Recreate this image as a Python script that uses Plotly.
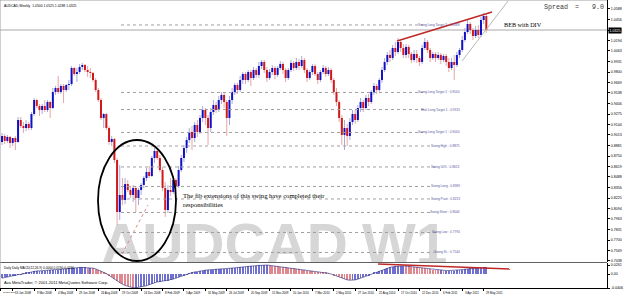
import plotly.graph_objects as go

# ---------------- data (weekly AUDCAD bars) ----------------
bar_index = list(range(182))

open_ = [0.8925,0.9000,0.8938,0.8988,0.8913,0.8975,0.8925,0.9200,0.9125,0.9100,
0.9150,0.9100,0.9275,0.9450,0.9375,0.9325,0.9375,0.9325,0.9425,0.9350,
0.9550,0.9600,0.9550,0.9625,0.9575,0.9638,0.9650,0.9850,0.9775,0.9800,
0.9863,0.9888,0.9825,0.9800,0.9788,0.9700,0.9575,0.9450,0.9225,0.9275,
0.9100,0.8925,0.8963,0.8700,0.8050,0.8263,0.8200,0.8400,0.8325,0.8263,
0.8350,0.8225,0.8325,0.8388,0.8475,0.8550,0.8500,0.8725,0.8813,0.8725,
0.8575,0.8350,0.8075,0.8325,0.8300,0.8450,0.8375,0.8575,0.8725,0.8850,
0.8950,0.9050,0.8975,0.9138,0.9050,0.9225,0.9325,0.9225,0.9100,0.9300,
0.9388,0.9325,0.9450,0.9513,0.9425,0.9225,0.9450,0.9550,0.9638,0.9575,
0.9700,0.9775,0.9700,0.9800,0.9725,0.9825,0.9763,0.9875,0.9925,0.9825,
0.9725,0.9800,0.9850,0.9763,0.9850,0.9900,0.9825,0.9725,0.9825,0.9913,
0.9850,0.9925,0.9875,0.9950,0.9825,0.9725,0.9800,0.9875,0.9775,0.9700,
0.9800,0.9850,0.9775,0.9825,0.9700,0.9550,0.9425,0.9225,0.9013,0.9100,
0.9000,0.9175,0.9275,0.9200,0.9350,0.9425,0.9350,0.9475,0.9425,0.9550,
0.9625,0.9575,0.9700,0.9825,0.9925,1.0013,0.9975,1.0100,1.0050,1.0175,
1.0100,1.0013,1.0113,1.0025,0.9950,1.0025,0.9975,0.9925,1.0100,1.0175,
1.0075,0.9975,1.0025,0.9975,1.0013,0.9950,1.0000,0.9925,0.9850,0.9925,
0.9888,1.0013,1.0075,1.0200,1.0300,1.0400,1.0325,1.0250,1.0325,1.0263,
1.0450,1.0500]

high_ = [0.9038,0.9025,0.9013,0.9000,0.8975,0.9000,0.9238,0.9238,0.9175,0.9200,
0.9175,0.9300,0.9475,0.9463,0.9400,0.9400,0.9450,0.9450,0.9438,0.9600,
0.9625,0.9750,0.9650,0.9650,0.9650,0.9700,0.9875,0.9863,0.9850,0.9900,
0.9913,0.9900,0.9875,0.9850,0.9800,0.9725,0.9600,0.9475,0.9288,0.9288,
0.9125,0.9000,0.8975,0.8725,0.8638,0.8475,0.8475,0.8450,0.8375,0.8388,
0.8375,0.8350,0.8413,0.8500,0.8600,0.8625,0.8750,0.8850,0.8838,0.8763,
0.8613,0.8425,0.8388,0.8475,0.8488,0.8475,0.8625,0.8763,0.8888,0.8988,
0.9100,0.9125,0.9175,0.9200,0.9263,0.9375,0.9350,0.9263,0.9350,0.9450,
0.9425,0.9500,0.9550,0.9538,0.9450,0.9500,0.9600,0.9663,0.9663,0.9750,
0.9800,0.9800,0.9825,0.9825,0.9863,0.9850,0.9925,0.9950,0.9950,0.9863,
0.9838,0.9888,0.9875,0.9875,0.9938,0.9925,0.9850,0.9850,0.9950,0.9938,
0.9975,0.9963,1.0000,0.9975,0.9850,0.9825,0.9900,0.9900,0.9800,0.9825,
0.9888,0.9875,0.9863,0.9850,0.9725,0.9600,0.9450,0.9263,0.9200,0.9150,
0.9225,0.9325,0.9325,0.9388,0.9475,0.9450,0.9513,0.9525,0.9575,0.9663,
0.9650,0.9725,0.9863,0.9975,1.0050,1.0075,1.0138,1.0175,1.0225,1.0200,
1.0150,1.0150,1.0138,1.0050,1.0075,1.0075,1.0000,1.0138,1.0225,1.0200,
1.0100,1.0050,1.0050,1.0050,1.0038,1.0025,1.0025,0.9975,0.9975,1.0013,
1.0050,1.0100,1.0250,1.0350,1.0450,1.0425,1.0350,1.0375,1.0388,1.0488,
1.0538,1.0525]

low_ = [0.8888,0.8900,0.8913,0.8850,0.8875,0.8825,0.8913,0.9100,0.9038,0.9063,
0.9075,0.9075,0.9250,0.9350,0.9250,0.9275,0.9300,0.9300,0.9225,0.9338,
0.9513,0.9525,0.9525,0.9413,0.9550,0.9575,0.9625,0.9750,0.9675,0.9775,
0.9825,0.9800,0.9738,0.9725,0.9675,0.9550,0.9425,0.9200,0.9100,0.9075,
0.8888,0.8875,0.8663,0.7888,0.7950,0.8138,0.8150,0.8300,0.8225,0.8175,
0.8050,0.8138,0.8263,0.8350,0.8438,0.8475,0.8488,0.8663,0.8700,0.8550,
0.8313,0.7988,0.8038,0.8250,0.8275,0.8275,0.8350,0.8550,0.8675,0.8788,
0.8913,0.8825,0.8925,0.8988,0.9025,0.9175,0.9138,0.8888,0.9050,0.9263,
0.9288,0.9300,0.9400,0.9350,0.9000,0.9138,0.9400,0.9513,0.9525,0.9550,
0.9650,0.9650,0.9675,0.9625,0.9700,0.9725,0.9725,0.9838,0.9788,0.9675,
0.9700,0.9763,0.9713,0.9738,0.9825,0.9775,0.9675,0.9700,0.9800,0.9813,
0.9825,0.9825,0.9850,0.9788,0.9675,0.9700,0.9763,0.9750,0.9650,0.9675,
0.9775,0.9738,0.9750,0.9663,0.9513,0.9375,0.9175,0.8888,0.8825,0.8875,
0.8950,0.9138,0.9150,0.9175,0.9300,0.9300,0.9325,0.9375,0.9400,0.9513,
0.9525,0.9550,0.9663,0.9800,0.9888,0.9925,0.9950,1.0000,1.0025,1.0050,
0.9975,0.9975,0.9975,0.9913,0.9925,0.9913,0.9875,0.9900,1.0075,1.0038,
0.9925,0.9950,0.9925,0.9950,0.9900,0.9925,0.9875,0.9800,0.9825,0.9700,
0.9863,0.9975,1.0050,1.0175,1.0275,1.0275,1.0200,1.0225,1.0225,1.0238,
1.0400,1.0288]

close_ = [0.9000,0.8938,0.8988,0.8913,0.8975,0.8925,0.9200,0.9125,0.9100,0.9150,
0.9100,0.9275,0.9450,0.9375,0.9325,0.9375,0.9325,0.9425,0.9350,0.9550,
0.9600,0.9550,0.9625,0.9575,0.9638,0.9650,0.9850,0.9775,0.9800,0.9863,
0.9888,0.9825,0.9800,0.9788,0.9700,0.9575,0.9450,0.9225,0.9275,0.9100,
0.8925,0.8963,0.8700,0.8050,0.8263,0.8200,0.8400,0.8325,0.8263,0.8350,
0.8225,0.8325,0.8388,0.8475,0.8550,0.8500,0.8725,0.8813,0.8725,0.8575,
0.8350,0.8075,0.8325,0.8300,0.8450,0.8375,0.8575,0.8725,0.8850,0.8950,
0.9050,0.8975,0.9138,0.9050,0.9225,0.9325,0.9225,0.9100,0.9300,0.9388,
0.9325,0.9450,0.9513,0.9425,0.9225,0.9450,0.9550,0.9638,0.9575,0.9700,
0.9775,0.9700,0.9800,0.9725,0.9825,0.9763,0.9875,0.9925,0.9825,0.9725,
0.9800,0.9850,0.9763,0.9850,0.9900,0.9825,0.9725,0.9825,0.9913,0.9850,
0.9925,0.9875,0.9950,0.9825,0.9725,0.9800,0.9875,0.9775,0.9700,0.9800,
0.9850,0.9775,0.9825,0.9700,0.9550,0.9425,0.9225,0.9013,0.9100,0.9000,
0.9175,0.9275,0.9200,0.9350,0.9425,0.9350,0.9475,0.9425,0.9550,0.9625,
0.9575,0.9700,0.9825,0.9925,1.0013,0.9975,1.0100,1.0050,1.0175,1.0100,
1.0013,1.0113,1.0025,0.9950,1.0025,0.9975,0.9925,1.0100,1.0175,1.0075,
0.9975,1.0025,0.9975,1.0013,0.9950,1.0000,0.9925,0.9850,0.9925,0.9888,
1.0013,1.0075,1.0200,1.0300,1.0400,1.0325,1.0250,1.0325,1.0263,1.0450,
1.0500,1.0325]

macd = [-0.012,-0.010,-0.008,-0.006,
-0.005,-0.004,-0.002,-0.001,0.001,
0.003,0.005,0.006,0.008,0.009,0.009,0.010,
0.010,0.011,0.011,0.012,0.013,0.013,0.014,
0.014,0.015,0.016,0.017,0.018,0.018,0.019,0.019,
0.019,0.018,0.018,0.017,0.015,0.012,0.009,
0.005,0.001,-0.004,-0.009,-0.014,-0.020,-0.026,
-0.030,-0.033,-0.036,-0.038,-0.040,-0.040,-0.039,-0.038,
-0.036,-0.034,-0.031,-0.028,-0.025,-0.023,-0.022,-0.021,-0.020,-0.019,
-0.017,-0.015,-0.012,-0.010,-0.007,-0.004,-0.001,0.002,
0.004,0.006,0.007,0.009,0.010,0.011,0.012,0.012,0.013,0.014,
0.014,0.015,0.015,0.015,0.016,0.017,0.018,0.019,0.020,0.020,
0.021,0.022,0.022,0.023,0.024,0.025,0.025,0.026,0.026,0.025,
0.024,0.023,0.022,0.021,0.020,0.019,0.018,0.017,0.016,0.015,0.014,
0.012,0.011,0.010,0.009,0.008,0.007,0.006,0.005,0.004,0.003,0.002,
0.000,-0.003,-0.006,-0.010,-0.013,-0.015,-0.017,-0.018,
-0.018,-0.017,-0.015,-0.012,-0.009,-0.006,-0.003,0.000,
0.003,0.006,0.009,0.012,0.015,0.017,0.019,0.021,
0.022,0.023,0.024,0.024,0.023,0.022,0.021,0.020,0.019,
0.018,0.017,0.016,0.015,0.014,0.013,0.012,0.011,0.011,0.010,
0.010,0.010,0.010,0.010,0.011,0.012,0.013,0.014,0.015,
0.016,0.017,0.017,0.018,0.018,0.019,0.019]

price_ticks = [1.0588,1.0456,1.0325,1.0194,1.0063,0.9931,0.9800,0.9669,0.9538,0.9406,
0.9275,0.9144,0.9013,0.8881,0.8750,0.8619,0.8488,0.8356,0.8225,0.8094,
0.7963,0.7831,0.7700,0.7569,0.7438]

date_labels = ["18 Nov 2007","13 Jan 2008","9 Mar 2008","4 May 2008","29 Jun 2008",
"24 Aug 2008","19 Oct 2008","14 Dec 2008","8 Feb 2009","5 Apr 2009","31 May 2009",
"26 Jul 2009","20 Sep 2009","15 Nov 2009","10 Jan 2010","7 Mar 2010","2 May 2010",
"27 Jun 2010","22 Aug 2010","17 Oct 2010","12 Dec 2010","6 Feb 2011","3 Apr 2011",
"29 May 2011"]
date_label_bars = [-0.7,4,12,20,28,36,44,52,60,68,76,84,92,100,108,116,124,132,140,148,156,164,172,180]

fib_levels = [1.0388,0.9544,0.9331,0.9044,0.8875,0.8613,0.8369,0.8213,0.8044,0.7794,0.7544]
fib_names = ["Swing Long Target 3","Swing Long Target 2","Risk Long Target 1","Swing Long Target 1",
"Swing High","Swing 50%","Swing Long","Swing Pivot","Swing Short","Swing Low","Swing SL"]

last_price = 1.0325
spread = 9.0

assert len(open_) == len(high_) == len(low_) == len(close_) == len(macd) == len(bar_index)

# ---------------- geometry helpers (pixel reads -> data coords) ----------------
W, H = 625, 296
MR, MB = 18, 8
PLOT_H = H - MB            # 288
X_RANGE = [-0.75, 226.1]   # bar index range across 607 px
Y_RANGE = [0.7425, 1.07]   # price range across main pane (0..262 px)
MAIN_BOTTOM = 262
IND_TOP = 263
IND_RANGE = [-0.0406, 0.0319]

def bx(px):  # pixel x -> bar index
    return X_RANGE[0] + px / (W - MR) * (X_RANGE[1] - X_RANGE[0])

def py(pyx):  # pixel y -> price
    return Y_RANGE[1] - pyx / MAIN_BOTTOM * (Y_RANGE[1] - Y_RANGE[0])

fig = go.Figure()

# watermark (drawn first so it sits under candles; clipped by the pane)
fig.add_trace(go.Scatter(x=[bx(101), bx(362)], y=[py(250), py(250)], mode="text",
                         text=["AUDCAD", "W1"], textposition="middle right", cliponaxis=True,
                         textfont=dict(family="Liberation Sans", size=57, color="#d6d6d6", weight="bold"),
                         hoverinfo="skip", showlegend=False, xaxis="x", yaxis="y"))

# wicks
up = [i for i in bar_index if close_[i] >= open_[i]]
dn = [i for i in bar_index if close_[i] < open_[i]]

def seg(idx, a, b):
    xs, ys = [], []
    for i in idx:
        xs += [bar_index[i], bar_index[i], None]
        ys += [a[i], b[i], None]
    return xs, ys

for idx, col in ((up, "#a9a9e0"), (dn, "#e6a6a6")):
    xs, ys = seg(idx, low_, high_)
    fig.add_trace(go.Scatter(x=xs, y=ys, mode="lines", line=dict(color=col, width=1),
                             hoverinfo="skip", showlegend=False, xaxis="x", yaxis="y"))
for idx, col in ((up, "#1010c8"), (dn, "#d01818")):
    xs, ys = seg(idx, open_, close_)
    fig.add_trace(go.Scatter(x=xs, y=ys, mode="lines", line=dict(color=col, width=2),
                             hoverinfo="skip", showlegend=False, xaxis="x", yaxis="y"))

# indicator histogram
hist_colors = ["#7070d0" if (i == 0 or macd[i] >= macd[i - 1]) else "#e08890" for i in bar_index]
fig.add_trace(go.Bar(x=bar_index, y=macd, width=0.32, marker=dict(color=hist_colors, line=dict(width=0)),
                     hoverinfo="skip", showlegend=False, xaxis="x2", yaxis="y2"))
fig.add_trace(go.Scatter(x=bar_index, y=macd, mode="lines", line=dict(color="#404088", width=0.7),
                         hoverinfo="skip", showlegend=False, xaxis="x2", yaxis="y2"))

shapes = []
annotations = []
tiny = "Liberation Sans"

# bid line
shapes.append(dict(type="line", xref="paper", yref="y", x0=0, x1=1, y0=last_price, y1=last_price,
                   line=dict(color="#a8a8a8", width=1), layer="below"))

# fib levels (dotted lines + labels)
fib_line_end_px = [423, 423, 425, 423, 433, 435, 432, 431, 432, 436, 434]
for lvl, name, endpx in zip(fib_levels, fib_names, fib_line_end_px):
    shapes.append(dict(type="line", xref="x", yref="y", x0=bx(121), x1=bx(endpx), y0=lvl, y1=lvl,
                       line=dict(color="#a0a0a0", width=1, dash="dot")))
    annotations.append(dict(x=bx(462), y=lvl, xref="x", yref="y", text=f"{name} : {lvl:.4f}",
                            showarrow=False, xanchor="right", yanchor="middle",
                            font=dict(family=tiny, size=3.2, color="#5a5aa0")))

# ellipse around 2008 swing
shapes.append(dict(type="circle", xref="x", yref="y", x0=bx(98), x1=bx(176), y0=py(261), y1=py(140),
                   line=dict(color="black", width=1.8)))
# thin dotted fib line inside ellipse
shapes.append(dict(type="line", xref="x", yref="y", x0=bx(122), y0=py(254), x1=bx(148), y1=py(205),
                   line=dict(color="#e08888", width=1, dash="dot")))
# price divergence trendline
shapes.append(dict(type="line", xref="x", yref="y", x0=bx(397), y0=py(41), x1=bx(492), y1=py(12),
                   line=dict(color="#c02828", width=1.5)))
# thin gray channel line
shapes.append(dict(type="line", xref="x", yref="y", x0=bx(462), y0=py(61), x1=bx(508), y1=py(1),
                   line=dict(color="#b8b8b8", width=1)))
# indicator divergence line
shapes.append(dict(type="line", xref="x2", yref="y2", x0=bx(378), y0=0.029, x1=bx(510), y1=0.0145,
                   line=dict(color="#c02828", width=1.3)))

# frame / separators
sep = (PLOT_H - MAIN_BOTTOM - 0.5) / PLOT_H
shapes.append(dict(type="line", xref="paper", yref="paper", x0=0, x1=1, y0=sep, y1=sep,
                   line=dict(color="#606060", width=1)))
shapes.append(dict(type="line", xref="paper", yref="paper", x0=0, x1=1, y0=1, y1=1,
                   line=dict(color="#a0a0a0", width=1)))
shapes.append(dict(type="line", xref="paper", yref="paper", x0=0, x1=0, y0=0, y1=1,
                   line=dict(color="#a0a0a0", width=1)))

# texts
annotations.append(dict(x=0.004, y=1, xref="paper", yref="paper", xanchor="left", yanchor="top", yshift=-2,
                        text=f"AUDCAD,Weekly  {open_[-1]:.4f} {high_[-1]:.4f} {low_[-1]:.4f} {close_[-1]:.4f}",
                        showarrow=False, font=dict(family=tiny, size=3.4, color="black")))
mono = dict(family="Liberation Mono", size=6.7, color="#404040")
annotations.append(dict(x=bx(542), y=py(7), xref="x", yref="y", xanchor="left", yanchor="middle",
                        text="Spread", showarrow=False, font=mono))
annotations.append(dict(x=bx(573), y=py(7), xref="x", yref="y", xanchor="left", yanchor="middle",
                        text="=", showarrow=False, font=mono))
annotations.append(dict(x=bx(606), y=py(7), xref="x", yref="y", xanchor="right", yanchor="middle",
                        text=f"{spread:.1f}", showarrow=False, font=mono))
annotations.append(dict(x=bx(502), y=py(24), xref="x", yref="y", xanchor="left", yanchor="middle",
                        text="BEB with DIV", showarrow=False,
                        font=dict(family="Liberation Serif", size=6.2, color="black")))
annotations.append(dict(x=bx(181), y=py(199.5), xref="x", yref="y", xanchor="left", yanchor="middle",
                        text="The fib extensions of this swing have completed their<br>responsibilities",
                        align="left", showarrow=False,
                        font=dict(family="Liberation Serif", size=6.6, color="black")))
# current price box on the axis
annotations.append(dict(x=1, y=last_price, xref="paper", yref="y", xanchor="left", yanchor="middle",
                        xshift=1, text=f"{last_price:.4f}", showarrow=False, bgcolor="black",
                        borderpad=0.5, font=dict(family=tiny, size=3.6, color="white")))
# indicator texts
annotations.append(dict(x=0.004, y=(PLOT_H - IND_TOP) / PLOT_H, xref="paper", yref="paper", xanchor="left",
                        yanchor="top", yshift=-1,
                        text=f"Daily Daily MACD(12,26,9) 0.0000 {macd[-1]:.4f} {macd[-1]:.4f}",
                        showarrow=False, font=dict(family=tiny, size=3.2, color="black")))
annotations.append(dict(x=0.004, y=0, xref="paper", yref="paper", xanchor="left", yanchor="bottom", yshift=1,
                        text="Ava MetaTrader, © 2001-2011 MetaQuotes Software Corp.",
                        showarrow=False, font=dict(family=tiny, size=4, color="black")))
# date labels (first one sits at the left edge and is squeezed before the next tick)
for k, (lab, b) in enumerate(zip(date_labels, date_label_bars)):
    annotations.append(dict(x=b, y=0, xref="x2", yref="paper", xanchor="left", yanchor="top", xshift=0.5,
                            yshift=-0.5, text=lab, showarrow=False,
                            font=dict(family=tiny, size=2.2 if k == 0 else 2.9, color="black")))

fig.update_layout(
    width=W, height=H, margin=dict(l=0, r=MR, t=0, b=MB, pad=0),
    paper_bgcolor="white", plot_bgcolor="white", showlegend=False, bargap=0,
    xaxis=dict(domain=[0, 1], range=X_RANGE, showgrid=False, zeroline=False, showticklabels=False,
               ticks="", anchor="y"),
    yaxis=dict(domain=[(PLOT_H - MAIN_BOTTOM) / PLOT_H, 1], range=Y_RANGE, side="right", showgrid=False,
               zeroline=False, tickvals=price_ticks, ticktext=[f"{v:.4f}" for v in price_ticks],
               ticks="outside", ticklen=2, tickcolor="black", showline=True, linecolor="black", linewidth=1,
               tickfont=dict(family=tiny, size=3.6, color="black"), anchor="x"),
    xaxis2=dict(domain=[0, 1], range=X_RANGE, showgrid=False, zeroline=False, showticklabels=False,
                tickvals=date_label_bars, ticks="outside", ticklen=2, tickcolor="black",
                showline=True, linecolor="black", linewidth=1, anchor="y2"),
    yaxis2=dict(domain=[0, (PLOT_H - IND_TOP) / PLOT_H], range=IND_RANGE, side="right", showgrid=False,
                zeroline=False, tickvals=[0.0261, 0.0, -0.0406], ticktext=["0.0261", "0.00", "-0.0406"],
                ticks="outside", ticklen=2, tickcolor="black", showline=True, linecolor="black", linewidth=1,
                tickfont=dict(family=tiny, size=3.6, color="black"), anchor="x2"),
    shapes=shapes, annotations=annotations,
)

fig.write_html("out.html")
